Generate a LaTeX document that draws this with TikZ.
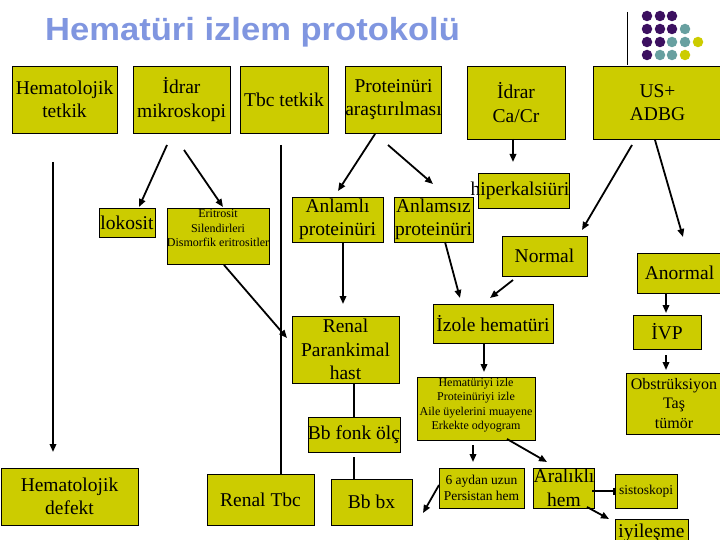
\documentclass[tikz,border=0pt]{standalone}
\usepackage{fontspec}
\setmainfont{Liberation Serif}
\newfontfamily\titlefont{Liberation Sans}
\usetikzlibrary{arrows.meta}
\definecolor{boxc}{RGB}{204,204,0}
\definecolor{titlec}{RGB}{128,150,224}
\definecolor{dotp}{RGB}{60,16,96}
\definecolor{dott}{RGB}{104,160,160}
\definecolor{doty}{RGB}{204,204,0}
\begin{document}
\begin{tikzpicture}[x=1pt,y=-1pt,
 box/.style={draw=black, fill=boxc, line width=0.8pt, inner sep=0pt, align=center, font=\fontsize{19.5}{23.5}\selectfont},
 conn/.style={line width=1.8pt},
 arr/.style={conn, -{Triangle[length=8pt,width=6.5pt]}},
 barend/.style={conn, -{Bar[width=7pt,line width=1.8pt]}},
 smalltxt/.style={font=\fontsize{12}{14.5}\selectfont},
 dotc/.style={circle, inner sep=0pt, minimum size=10.5pt},
]
\useasboundingbox[fill=white] (0,0) rectangle (720,540);

% title
\node[anchor=base west, text=titlec, inner sep=0pt, font=\titlefont\bfseries\fontsize{32}{36}\selectfont] (title) at (45,41) {\scalebox{1.08}[1]{Hematüri izlem protokolü}};

% decoration
\coordinate (vl1) at (627,12);
\coordinate (vl2) at (627,65);
\draw[line width=0.8pt] (vl1) -- (vl2);
\foreach \x/\y/\c in {647/16/dotp,660/16/dotp,672/16/dotp,
  647/29/dotp,660/29/dotp,672/29/dotp,685/29/dott,
  647/42/dotp,660/42/dotp,672/42/dott,685/42/dott,698/42/doty,
  647/55/dotp,660/55/dott,672/55/dott,685/55/doty}
  \node[dotc, fill=\c] (d\x-\y) at (\x,\y) {};

% top row
\node[box, minimum width=105, minimum height=67] (hemtet) at (64.5,99.5) {Hematolojik\\tetkik};
\node[box, minimum width=97, minimum height=67] (idrarm) at (181.5,99.5) {İdrar\\mikroskopi};
\node[box, minimum width=88, minimum height=67] (tbc) at (284,99.5) {Tbc tetkik};
\node[box, minimum width=93, minimum height=67] (prot) at (393.5,99.5) {Proteinüri\\araştırılması};
\node[box, minimum width=98, minimum height=73] (cacr) at (516,102.5) {İdrar\\Ca/Cr};
\node[box, minimum width=129, minimum height=73] (usadbg) at (657.5,102.5) {US+\\ADBG};

% second row
\node[box, minimum width=56, minimum height=29] (lokosit) at (127,222.5) {lokosit};
\node[box, minimum width=102, minimum height=56] (erit) at (218,236) {};
\node[smalltxt, align=center, inner sep=0pt, anchor=north] (eritT) at ([yshift=-2pt]erit.north) {Eritrosit\\Silendirleri\\Dismorfik eritrositler};
\node[box, minimum width=91, minimum height=45] (anlamli) at (337.5,219.5) {Anlamlı\\proteinüri};
\node[box, minimum width=79, minimum height=45] (anlamsiz) at (433.5,219.5) {Anlamsız\\proteinüri};
\node[box, minimum width=90, minimum height=35] (hiperk) at (524,190.5) {\hspace*{-8pt}hiperkalsiüri};
\node[box, minimum width=85, minimum height=40] (normal) at (544.5,256) {Normal};
\node[box, minimum width=85, minimum height=40] (anormal) at (679.5,273) {Anormal};

% third row
\node[box, minimum width=107, minimum height=67] (renalp) at (345.5,349.5) {Renal\\Parankimal\\hast};
\node[box, minimum width=90, minimum height=35] (bbfonk) at (354,434.5) {Bb fonk ölç};
\node[box, minimum width=120, minimum height=39] (izole) at (493,323.5) {İzole hematüri};
\node[box, minimum width=118, minimum height=63] (hemizle) at (476,408.5) {};
\node[smalltxt, align=center, inner sep=0pt] (hemizleT) at (476,405) {Hematüriyi izle\\Proteinüriyi izle\\Aile üyelerini muayene\\Erkekte odyogram};
\node[box, minimum width=68, minimum height=34] (ivp) at (667,332) {İVP};
\node[box, minimum width=96, minimum height=61, font=\fontsize{16}{19.5}\selectfont] (obst) at (674,403.5) {Obstrüksiyon\\Taş\\tümör};

% bottom row
\node[box, minimum width=137, minimum height=57] (hemdef) at (69.5,496.5) {Hematolojik\\defekt};
\node[box, minimum width=107, minimum height=51] (renaltbc) at (260.5,499.5) {Renal Tbc};
\node[box, minimum width=81, minimum height=46] (bbbx) at (371.5,502) {Bb bx};
\node[box, minimum width=85, minimum height=40, font=\fontsize{13.5}{16}\selectfont] (persist) at (481.5,488) {6 aydan uzun\\Persistan hem};
\node[box, minimum width=56, minimum height=40, font=\fontsize{19.5}{24}\selectfont] (aralikli) at (564,488) {Aralıklı\\hem};
\node[box, minimum width=62, minimum height=34, font=\fontsize{13.5}{16}\selectfont] (sisto) at (646,491) {sistoskopi};
\node[box, minimum width=73, minimum height=27] (iyiles) at (651.5,532.5) {iyileşme};

% connector end points
\coordinate (a1) at (53,162);   \coordinate (b1) at (53,452);
\coordinate (a2) at (167,145);  \coordinate (b2) at (139,207);
\coordinate (a3) at (184,150);  \coordinate (b3) at (223,207);
\coordinate (a4) at (281,145);  \coordinate (b4) at (281,474);
\coordinate (a5) at (224,265);  \coordinate (b5) at (287,338);
\coordinate (a6) at (375,134);  \coordinate (b6) at (338,191);
\coordinate (a7) at (388,145);  \coordinate (b7) at (433,184);
\coordinate (a8) at (343,242);  \coordinate (b8) at (343,304);
\coordinate (a9) at (445,242);  \coordinate (b9) at (460,298);
\coordinate (a10) at (513,280); \coordinate (b10) at (490,298);
\coordinate (a11) at (513,139); \coordinate (b11) at (513,162);
\coordinate (a12) at (632,145); \coordinate (b12) at (582,230);
\coordinate (a13) at (655,140); \coordinate (b13) at (683,237);
\coordinate (a14) at (354,383); \coordinate (b14) at (354,417);
\coordinate (a15) at (354,457); \coordinate (b15) at (354,479);
\coordinate (a16) at (484,343); \coordinate (b16) at (484,372);
\coordinate (a17) at (666,293); \coordinate (b17) at (666,313);
\coordinate (a18) at (666,355); \coordinate (b18) at (666,370);
\coordinate (a19) at (473,445); \coordinate (b19) at (473,462);
\coordinate (a20) at (507,439); \coordinate (b20) at (547,462);
\coordinate (a21) at (439,485); \coordinate (b21) at (423,513);
\coordinate (a22) at (592,491); \coordinate (b22) at (615,491);
\coordinate (a23) at (587,507); \coordinate (b23) at (609,519);

\draw[arr] (a1) -- (b1);
\draw[arr] (a2) -- (b2);
\draw[arr] (a3) -- (b3);
\draw[conn] (a4) -- (b4);
\draw[arr] (a5) -- (b5);
\draw[arr] (a6) -- (b6);
\draw[arr] (a7) -- (b7);
\draw[arr] (a8) -- (b8);
\draw[arr] (a9) -- (b9);
\draw[arr] (a10) -- (b10);
\draw[arr] (a11) -- (b11);
\draw[arr] (a12) -- (b12);
\draw[arr] (a13) -- (b13);
\draw[conn] (a14) -- (b14);
\draw[conn] (a15) -- (b15);
\draw[arr] (a16) -- (b16);
\draw[arr] (a17) -- (b17);
\draw[arr] (a18) -- (b18);
\draw[arr] (a19) -- (b19);
\draw[arr] (a20) -- (b20);
\draw[arr] (a21) -- (b21);
\draw[barend] (a22) -- (b22);
\draw[arr] (a23) -- (b23);
\end{tikzpicture}
\end{document}
